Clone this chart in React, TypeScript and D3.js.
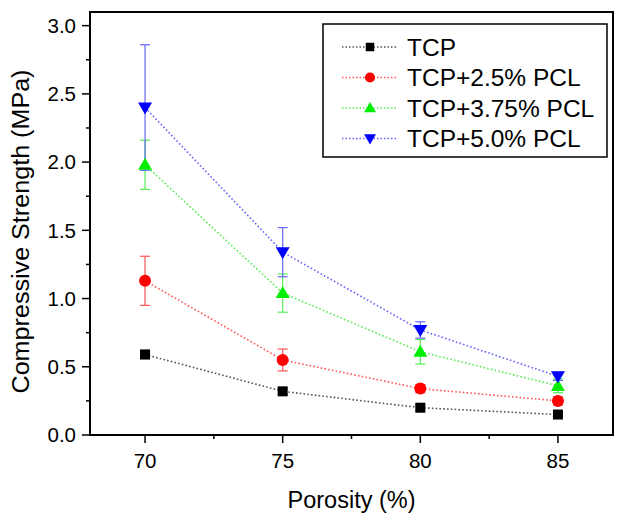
import React from "react";
import * as d3 from "d3";

const porosity = [70, 75, 80, 85];
const seriesNames = ["TCP", "TCP+2.5% PCL", "TCP+3.75% PCL", "TCP+5.0% PCL"];
const tcpValues = [0.59, 0.32, 0.2, 0.15];
const tcpErrors = [0.03, 0.02, 0.02, 0.015];
const pcl25Values = [1.13, 0.55, 0.34, 0.25];
const pcl25Errors = [0.18, 0.08, 0.03, 0.03];
const pcl375Values = [1.98, 1.04, 0.61, 0.36];
const pcl375Errors = [0.18, 0.14, 0.09, 0.05];
const pcl50Values = [2.4, 1.34, 0.77, 0.43];
const pcl50Errors = [0.46, 0.18, 0.06, 0.03];
const yTicks = [0, 0.5, 1.0, 1.5, 2.0, 2.5, 3.0];
const yMinorTicks = [0.25, 0.75, 1.25, 1.75, 2.25, 2.75];
const xTicks = [70, 75, 80, 85];
const xMinorTicks = [72.5, 77.5, 82.5];

const lineColors = ["#555555", "#ff5555", "#55ee55", "#6666ff"];
const markColors = ["#000000", "#ff0000", "#00ee00", "#0000ff"];
const markShapes = ["square", "circle", "triangle", "triangleDown"];

const W = 628, H = 523;
const L = 90, R = 613, T = 12, B = 435;
const font = "Arial, 'Liberation Sans', Helvetica, sans-serif";

function Marker({ shape, x, y, color, s = 1 }: any) {
  if (shape === "square") return <rect x={x - 5 * s} y={y - 5 * s} width={10 * s} height={10 * s} fill={color} />;
  if (shape === "circle") return <circle cx={x} cy={y} r={6 * s} fill={color} />;
  if (shape === "triangle")
    return <path d={`M${x},${y - 7 * s}L${x + 7 * s},${y + 5 * s}L${x - 7 * s},${y + 5 * s}Z`} fill={color} />;
  return <path d={`M${x},${y + 7 * s}L${x + 7 * s},${y - 5 * s}L${x - 7 * s},${y - 5 * s}Z`} fill={color} />;
}

export default function App() {
  const x = d3.scaleLinear().domain([68, 87]).range([L, R]);
  const y = d3.scaleLinear().domain([0, 3.1]).range([B, T]);
  const values = [tcpValues, pcl25Values, pcl375Values, pcl50Values];
  const errors = [tcpErrors, pcl25Errors, pcl375Errors, pcl50Errors];
  const line = d3.line<number>().x((_, i) => x(porosity[i])).y((d) => y(d));

  return (
    <svg width={W} height={H} style={{ display: "block", position: "absolute", left: 0, top: 0 }} fontFamily={font}>
      <rect width={W} height={H} fill="#fff" />
      {values.map((vals, si) => (
        <path key={"l" + si} d={line(vals) || ""} fill="none" stroke={lineColors[si]} strokeWidth={1.6} strokeDasharray="1.6,2.2" />
      ))}
      {values.map((vals, si) =>
        vals.map((v, i) => {
          const cx = x(porosity[i]);
          const y1 = y(v + errors[si][i]);
          const y2 = y(v - errors[si][i]);
          return (
            <g key={"e" + si + "-" + i} stroke={lineColors[si]} strokeWidth={1.2}>
              <line x1={cx} x2={cx} y1={y1} y2={y2} />
              <line x1={cx - 5} x2={cx + 5} y1={y1} y2={y1} />
              <line x1={cx - 5} x2={cx + 5} y1={y2} y2={y2} />
            </g>
          );
        })
      )}
      {values.map((vals, si) =>
        vals.map((v, i) => <Marker key={"m" + si + "-" + i} shape={markShapes[si]} x={x(porosity[i])} y={y(v)} color={markColors[si]} />)
      )}
      <rect x={L} y={T} width={R - L} height={B - T} fill="none" stroke="#000" strokeWidth={2} />
      {yTicks.map((t) => (
        <g key={"yt" + t}>
          <line x1={L - 8} x2={L} y1={y(t)} y2={y(t)} stroke="#000" strokeWidth={1.5} />
          <text x={L - 14} y={y(t)} dy="0.36em" textAnchor="end" fontSize={20.5}>
            {t.toFixed(1)}
          </text>
        </g>
      ))}
      {yMinorTicks.map((t) => (
        <line key={"ym" + t} x1={L - 4} x2={L} y1={y(t)} y2={y(t)} stroke="#000" strokeWidth={1.5} />
      ))}
      {xTicks.map((t) => (
        <g key={"xt" + t}>
          <line x1={x(t)} x2={x(t)} y1={B} y2={B + 8} stroke="#000" strokeWidth={1.5} />
          <text x={x(t)} y={B + 33} textAnchor="middle" fontSize={20.5}>
            {t}
          </text>
        </g>
      ))}
      {xMinorTicks.map((t) => (
        <line key={"xm" + t} x1={x(t)} x2={x(t)} y1={B} y2={B + 4} stroke="#000" strokeWidth={1.5} />
      ))}
      <text x={(L + R) / 2} y={B + 73} textAnchor="middle" fontSize={23.5}>
        Porosity (%)
      </text>
      <text
        transform={`translate(29,${(T + B) / 2 + 8}) rotate(-90)`}
        textAnchor="middle"
        fontSize={23}
        textLength={324}
        lengthAdjust="spacingAndGlyphs"
      >
        Compressive Strength (MPa)
      </text>
      <rect x={323} y={24} width={284} height={133} fill="#fff" stroke="#000" strokeWidth={1.5} />
      {seriesNames.map((name, si) => {
        const ly = 47 + si * 30.5;
        return (
          <g key={"lg" + si}>
            <line x1={342} x2={397} y1={ly} y2={ly} stroke={lineColors[si]} strokeWidth={1.4} strokeDasharray="1.5,2" />
            <Marker shape={markShapes[si]} x={370} y={ly} color={markColors[si]} s={0.85} />
            <text x={407} y={ly} dy="0.36em" fontSize={24.5}>
              {name}
            </text>
          </g>
        );
      })}
    </svg>
  );
}
